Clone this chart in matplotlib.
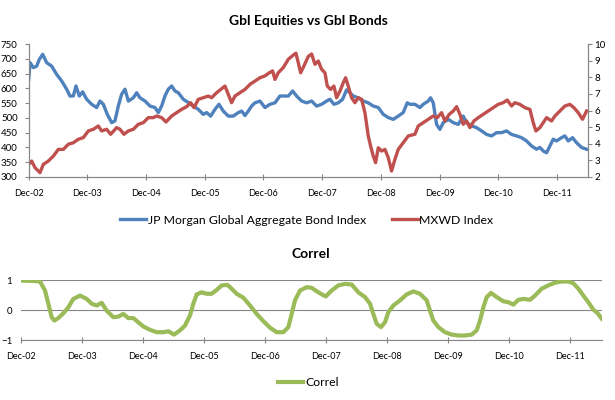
import matplotlib
matplotlib.use("Agg")
import matplotlib.pyplot as plt
from matplotlib.lines import Line2D

plt.rcParams['font.family'] = ['Lato', 'DejaVu Sans']

# months after Dec-02
tick_labels = ["Dec-02", "Dec-03", "Dec-04", "Dec-05", "Dec-06",
               "Dec-07", "Dec-08", "Dec-09", "Dec-10", "Dec-11"]
tick_months = [0, 12, 24, 36, 48, 60, 72, 84, 96, 108]
end_month = 114.3

bond_m = [0, 0.27, 0.95, 1.63, 2.17, 2.86, 3.67, 4.7, 5.72, 6.74, 7.76, 8.44, 9.12, 9.67, 10.35,
          11.03, 11.85, 12.87, 13.9, 14.58, 15.26, 16.07, 16.96, 17.64, 18.32, 19.0, 19.69, 20.37,
          21.39, 22.07, 22.75, 23.78, 24.8, 25.82, 26.5, 27.18, 27.86, 28.54, 29.23, 29.91, 30.59,
          31.61, 32.63, 33.66, 34.68, 35.7, 36.38, 37.2, 38.09, 38.9, 39.79, 40.81, 41.83, 42.86,
          43.54, 44.22, 44.9, 45.58, 46.26, 47.28, 48.31, 49.33, 50.35, 51.37, 52.4, 53.08, 53.96,
          54.78, 55.8, 56.82, 57.85, 58.87, 59.89, 60.91, 61.6, 62.41, 63.3, 64.18, 65.0, 65.68,
          66.36, 67.39, 68.41, 69.43, 70.45, 71.48, 72.5, 73.52, 74.54, 75.56, 76.58, 77.4, 77.95,
          78.97, 79.99, 80.67, 81.7, 82.17, 82.72, 83.4, 84.08, 84.76, 85.79, 86.81, 87.83, 88.85,
          89.53, 90.56, 91.58, 92.6, 93.62, 94.65, 95.67, 96.69, 97.71, 98.73, 99.76, 100.78,
          101.8, 102.82, 103.84, 104.53, 105.21, 105.89, 106.57, 107.25, 107.93, 108.96, 109.64,
          110.32, 111.2, 112.02, 113.04, 114.07]
bond_v = [630, 687, 670, 675, 698, 715, 687, 675, 647, 625, 597, 574, 574, 608, 574,
          588, 563, 546, 535, 557, 546, 512, 484, 490, 540, 580, 597, 557,
          568, 585, 568, 557, 540, 535, 518, 540, 574, 597, 608, 591, 585,
          563, 552, 540, 529, 512, 518, 506, 529, 546, 523, 506, 506, 518,
          523, 508, 523, 540, 551, 557, 535, 546, 551, 574, 574, 574, 591,
          574, 557, 551, 557, 540, 546, 557, 563, 546, 551, 563, 595, 585,
          574, 568, 557, 551, 540, 535, 512, 501, 495, 506, 518, 551, 546,
          546, 535, 546, 557, 568, 551, 478, 461, 484, 495, 484, 478, 506,
          484, 473, 467, 456, 444, 439, 450, 450, 456, 444, 439, 433,
          422, 405, 394, 400, 388, 382, 405, 428, 422, 433, 439,
          422, 433, 416, 400, 394]

mxwd_m = [0, 0.61, 1.29, 2.31, 2.99, 4.01, 5.04, 6.06, 7.08, 8.1, 9.12, 10.15, 11.17, 12.19,
          13.21, 14.23, 14.92, 15.94, 16.76, 17.98, 18.66, 19.48, 20.37, 21.39, 22.41, 23.43,
          24.46, 25.48, 26.16, 27.18, 28.07, 29.23, 30.25, 31.27, 32.29, 33.11, 33.79, 34.68,
          35.7, 36.72, 37.4, 38.43, 39.11, 40.13, 40.81, 41.49, 42.17, 43.2, 44.22, 45.24, 46.26,
          47.28, 48.31, 49.19, 49.87, 50.35, 51.03, 52.05, 53.08, 53.96, 54.64, 55.12, 55.6,
          56.28, 57.16, 57.85, 58.53, 59.21, 59.89, 60.57, 61.05, 61.73, 62.41, 62.96, 63.64,
          64.32, 64.8, 65.34, 66.02, 66.71, 67.39, 68.07, 68.75, 69.43, 69.91, 70.45, 70.93,
          71.48, 72.16, 72.84, 73.52, 74.2, 74.88, 75.56, 76.58, 77.61, 78.97, 79.65, 80.67,
          81.7, 82.72, 83.54, 84.42, 85.1, 85.99, 86.81, 87.49, 88.17, 88.85, 89.53, 90.21,
          91.03, 91.92, 92.94, 93.96, 94.98, 96.0, 97.03, 97.85, 98.73, 99.41, 100.44, 101.46,
          102.48, 103.16, 103.71, 104.53, 105.21, 105.89, 106.91, 107.6, 108.62, 109.64,
          110.66, 111.48, 112.36, 113.24, 114.07]
mxwd_v = [2.76, 2.96, 2.56, 2.26, 2.76, 2.96, 3.26, 3.66, 3.66, 3.97, 4.06, 4.27, 4.37, 4.77,
          4.87, 5.07, 4.77, 4.87, 4.57, 4.97, 4.87, 4.57, 4.77, 4.87, 5.17, 5.27,
          5.57, 5.57, 5.67, 5.57, 5.31, 5.67, 5.87, 6.07, 6.23, 6.47, 6.17, 6.67,
          6.77, 6.87, 6.77, 7.07, 7.23, 7.47, 6.97, 6.47, 6.87, 7.07, 7.27, 7.57, 7.77,
          7.97, 8.08, 8.27, 8.38, 7.87, 8.27, 8.58, 9.08, 9.3, 9.45, 8.88, 8.27,
          8.68, 9.25, 9.4, 8.78, 8.98, 8.48, 8.27, 7.47, 7.27, 7.47, 6.77, 7.17,
          7.67, 7.97, 7.47, 6.77, 6.47, 6.77, 6.67, 5.87, 4.47, 3.86, 3.26, 2.86,
          3.76, 3.56, 3.66, 3.16, 2.36, 3.06, 3.66, 4.06, 4.47, 4.57, 5.07, 5.27,
          5.47, 5.67, 5.57, 5.87, 5.37, 5.77, 5.97, 6.23, 5.77, 5.17, 5.37, 4.97,
          5.37, 5.57, 5.77, 5.97, 6.17, 6.37, 6.47, 6.63, 6.27, 6.47, 6.37, 6.17,
          6.07, 5.27, 4.77, 4.97, 5.27, 5.57, 5.37, 5.67, 5.97, 6.27,
          6.37, 6.17, 5.87, 5.47, 5.97]

correl_m = [0, 2.49, 3.8, 4.78, 5.44, 6.09, 6.62, 7.4, 8.39, 9.37, 10.35, 11.67, 12.98, 13.96,
            14.95, 15.93, 16.91, 18.22, 19.21, 20.19, 21.17, 22.16, 23.14, 24.13, 25.44, 26.75,
            28.06, 29.04, 30.16, 31.34, 32.32, 33.31, 33.96, 34.62, 35.6, 36.59, 37.57, 38.55,
            39.54, 40.65, 41.5, 42.49, 43.8, 45.11, 46.42, 47.73, 49.05, 50.36, 51.67, 52.65,
            53.31, 53.96, 54.95, 56.26, 57.24, 58.55, 60.0, 61.18, 62.49, 63.8, 65.11, 66.42,
            67.74, 68.72, 69.37, 70.03, 70.88, 71.67, 72.33, 73.31, 74.62, 75.93, 77.24, 78.56,
            79.87, 80.52, 81.18, 82.16, 83.47, 84.79, 86.1, 87.41, 88.72, 89.71, 90.36, 91.02,
            91.67, 92.53, 93.64, 94.95, 95.93, 96.92, 97.9, 98.89, 100.2, 101.18, 102.49, 103.8,
            105.11, 106.43, 107.74, 108.72, 109.71, 110.69, 111.67, 112.66, 113.51, 114.3]
correl_v = [0.98, 0.97, 0.95, 0.65, 0.21, -0.24, -0.35, -0.27, -0.11, 0.09, 0.37, 0.48, 0.37, 0.21,
            0.15, 0.24, -0.02, -0.24, -0.22, -0.13, -0.27, -0.27, -0.41, -0.55, -0.66, -0.74,
            -0.74, -0.71, -0.82, -0.68, -0.52, -0.18, 0.21, 0.52, 0.59, 0.54, 0.54, 0.67,
            0.82, 0.84, 0.71, 0.54, 0.41, 0.15, -0.13, -0.37, -0.59, -0.74, -0.74, -0.57,
            -0.13, 0.32, 0.65, 0.76, 0.74, 0.59, 0.45, 0.65, 0.82, 0.87, 0.85, 0.59,
            0.43, 0.21, -0.13, -0.46, -0.57, -0.41, -0.07, 0.15, 0.32, 0.52, 0.62, 0.54,
            0.32, -0.02, -0.35, -0.57, -0.74, -0.82, -0.85, -0.85, -0.82, -0.68, -0.35, 0.09,
            0.43, 0.57, 0.43, 0.29, 0.26, 0.18, 0.34, 0.37, 0.34, 0.48, 0.71, 0.82,
            0.91, 0.95, 0.95, 0.89, 0.71, 0.48, 0.26, 0.01, -0.11, -0.29]

blue = '#4F81BD'
red = '#C0504D'
green = '#9BBB59'
grey = '#868686'

fig = plt.figure(figsize=(6.15, 4.0), dpi=100)

# top chart
ax = fig.add_axes([28.7 / 615, 1 - 177 / 400, 559 / 615, 133 / 400])
ax2 = ax.twinx()
ax.plot(bond_m, bond_v, color=blue, lw=2.4)
ax2.plot(mxwd_m, mxwd_v, color=red, lw=2.4)
ax.set_xlim(0, end_month)
ax.set_ylim(300, 750)
ax2.set_ylim(2, 10)
ax.set_yticks(range(300, 751, 50))
ax2.set_yticks(range(2, 11))
ax.set_xticks(tick_months)
ax.set_xticklabels(tick_labels)
for a in (ax, ax2):
    for s in a.spines.values():
        s.set_color(grey)
    a.spines['top'].set_visible(False)
ax.tick_params(axis='y', direction='out', length=3, color=grey, labelsize=7, pad=5)
ax2.tick_params(axis='y', direction='out', length=3, color=grey, labelsize=7, pad=2)
ax.tick_params(axis='x', direction='inout', length=5, color=grey, labelsize=6.5, pad=6)
ax.set_title('Gbl Equities vs Gbl Bonds', fontsize=10, fontweight='bold', pad=14)

h1 = Line2D([], [], color=blue, lw=2.4)
h2 = Line2D([], [], color=red, lw=2.4)
fig.legend([h1, h2], ['JP Morgan Global Aggregate Bond Index', 'MXWD Index'],
           loc='center', bbox_to_anchor=(307 / 615, 1 - 220 / 400), ncol=2, frameon=False,
           fontsize=8.8, handlelength=2.1, handletextpad=0.15, columnspacing=2.1)

# bottom chart
bx = fig.add_axes([20.7 / 615, 1 - 340 / 400, 581 / 615, 60 / 400])
bx.plot(correl_m, correl_v, color=green, lw=3, zorder=3)
bx.set_xlim(0, end_month)
bx.set_ylim(-1, 1)
bx.set_yticks([-1, 0, 1])
bx.set_xticks(tick_months)
bx.set_xticklabels(tick_labels)
bx.yaxis.grid(True, color=grey, lw=0.8)
for k in ('top', 'left', 'right'):
    bx.spines[k].set_visible(False)
bx.spines['bottom'].set_color(grey)
bx.tick_params(axis='y', length=0, labelsize=7, pad=6)
bx.tick_params(axis='x', direction='inout', length=5, color=grey, labelsize=6.5, pad=6)
bx.set_title('Correl', fontsize=10, fontweight='bold', pad=16)

h3 = Line2D([], [], color=green, lw=3)
fig.legend([h3], ['Correl'], loc='center', bbox_to_anchor=(308 / 615, 1 - 383 / 400),
           frameon=False, fontsize=8.8, handlelength=2.1, handletextpad=0.15)

fig.savefig('out.png', dpi=100)
